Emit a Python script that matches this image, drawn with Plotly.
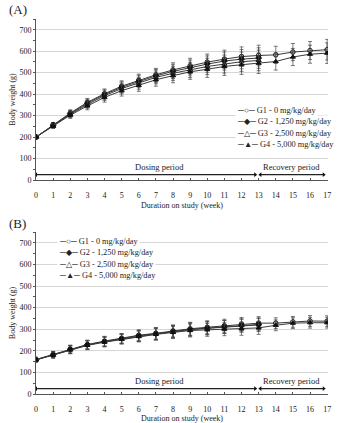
import plotly.graph_objects as go

weeks = list(range(0, 18))
groups = ["G1 - 0 mg/kg/day", "G2 - 1,250 mg/kg/day", "G3 - 2,500 mg/kg/day", "G4 - 5,000 mg/kg/day"]

# Panel A (males)
a_g1 = [200, 258, 312, 362, 402, 437, 465, 490, 513, 532, 549, 563, 575, 580, 583, 596, 603, 607]
a_g2 = [200, 255, 309, 358, 398, 432, 460, 485, 506, 524, 540, 554, 563, 568]
a_g3 = [200, 253, 306, 352, 393, 426, 451, 478, 497, 513, 529, 540, 551, 557]
a_g4 = [200, 250, 302, 345, 385, 416, 441, 467, 486, 504, 516, 529, 537, 544, 552, 573, 586, 591]
a_sd = [8, 10, 15, 18, 22, 25, 28, 30, 33, 35, 38, 42, 45, 48, 40, 40, 42, 48]

# Panel B (females)
b_g1 = [160, 183, 208, 229, 245, 258, 272, 281, 292, 302, 309, 316, 324, 328, 328, 334, 338, 337]
b_g2 = [159, 182, 207, 228, 243, 256, 270, 279, 289, 299, 305, 311, 318, 322]
b_g3 = [158, 181, 206, 227, 242, 255, 268, 278, 288, 298, 304, 310, 316, 320]
b_g4 = [158, 180, 204, 225, 240, 253, 266, 276, 285, 294, 297, 300, 302, 306, 318, 328, 330, 330]
b_sd = [10, 14, 18, 20, 22, 22, 25, 27, 28, 30, 30, 30, 30, 30, 25, 25, 25, 25]

y_ticks = [0, 100, 200, 300, 400, 500, 600, 700]
periods = [("Dosing period", 0, 12.8, 7.2), ("Recovery period", 13.1, 16.8, 14.9)]

markers = ["circle-open", "diamond", "triangle-up-open", "triangle-up"]
legend_syms = ["─○─", "─◆─", "─△─", "─▲─"]
FONT = "Liberation Serif, Times New Roman, serif"

fig = go.Figure()

def add_panel(series, sd, xa, ya):
    for i, ys in enumerate(series):
        xs = weeks[:len(ys)]
        fig.add_trace(go.Scatter(
            x=xs, y=ys, mode="lines+markers", xaxis=xa, yaxis=ya,
            line=dict(color="#3a3a3a", width=1),
            marker=dict(symbol=markers[i], size=4.5, color="#111",
                        line=dict(color="#111", width=1)),
            error_y=dict(type="data", array=sd[:len(ys)], color="#444",
                         thickness=0.7, width=2),
            showlegend=False, name=groups[i]))
    for name, x0, x1, xc in periods:
        fig.add_trace(go.Scatter(
            x=[x0, x1], y=[25, 25], mode="lines+markers", xaxis=xa, yaxis=ya,
            line=dict(color="#222", width=1.3),
            marker=dict(symbol=["triangle-left", "triangle-right"], size=4, color="#111"),
            showlegend=False, hoverinfo="skip"))
        fig.add_annotation(x=xc, y=62, xref=xa, yref=ya, text=name, showarrow=False,
                           font=dict(family=FONT, size=8.5, color="#222"))

add_panel([a_g1, a_g2, a_g3, a_g4], a_sd, "x", "y")
add_panel([b_g1, b_g2, b_g3, b_g4], b_sd, "x2", "y2")

def px_x(px):
    return (px - 33) / 295

def px_y(py):
    return (394 - py) / 375

# legends
for i, g in enumerate(groups):
    for lx, ly0 in [(234, 110), (54, 241)]:
        ly = ly0 + i * 11.5
        fig.add_annotation(x=px_x(lx), y=px_y(ly), xref="paper", yref="paper",
                           text=legend_syms[i] + " " + g, showarrow=False,
                           xanchor="left", yanchor="middle", bgcolor="white",
                           font=dict(family=FONT, size=8.3, color="#222"))

for lab, py in [("(A)", 10), ("(B)", 223)]:
    fig.add_annotation(x=px_x(4), y=px_y(py), xref="paper", yref="paper", text=lab,
                       showarrow=False, xanchor="left", yanchor="middle",
                       font=dict(family=FONT, size=13, color="#222"))

xcommon = dict(range=[0, 17.05], tickmode="array", tickvals=weeks, showgrid=False,
               showline=True, linecolor="#555", linewidth=1, ticks="inside", ticklen=2,
               tickcolor="#555", zeroline=False, ticklabelstandoff=7, automargin=False,
               tickfont=dict(family=FONT, size=8, color="#222"),
               title=dict(text="Duration on study (week)", font=dict(family=FONT, size=8, color="#222"),
                          standoff=3))
ycommon = dict(range=[0, 750], tickmode="array", tickvals=y_ticks, showgrid=True,
               gridcolor="#d6d6d6", gridwidth=1, showline=True, linecolor="#555",
               linewidth=1, ticks="outside", ticklen=2, tickcolor="#555", zeroline=False,
               minor=dict(dtick=50, ticks="outside", ticklen=2, tickcolor="#555", showgrid=False),
               tickfont=dict(family=FONT, size=8, color="#222"),
               title=dict(text="Body weight (g)", font=dict(family=FONT, size=8, color="#222"),
                          standoff=2))

fig.update_layout(
    width=347, height=423,
    margin=dict(l=33, r=19, t=19, b=29),
    paper_bgcolor="white", plot_bgcolor="white",
    xaxis=dict(domain=[0, 1], anchor="y", **xcommon),
    yaxis=dict(domain=[px_y(180), 1], anchor="x", **ycommon),
    xaxis2=dict(domain=[0, 1], anchor="y2", **xcommon),
    yaxis2=dict(domain=[0, px_y(232)], anchor="x2", **ycommon),
    showlegend=False,
)

fig.write_html("out.html")
